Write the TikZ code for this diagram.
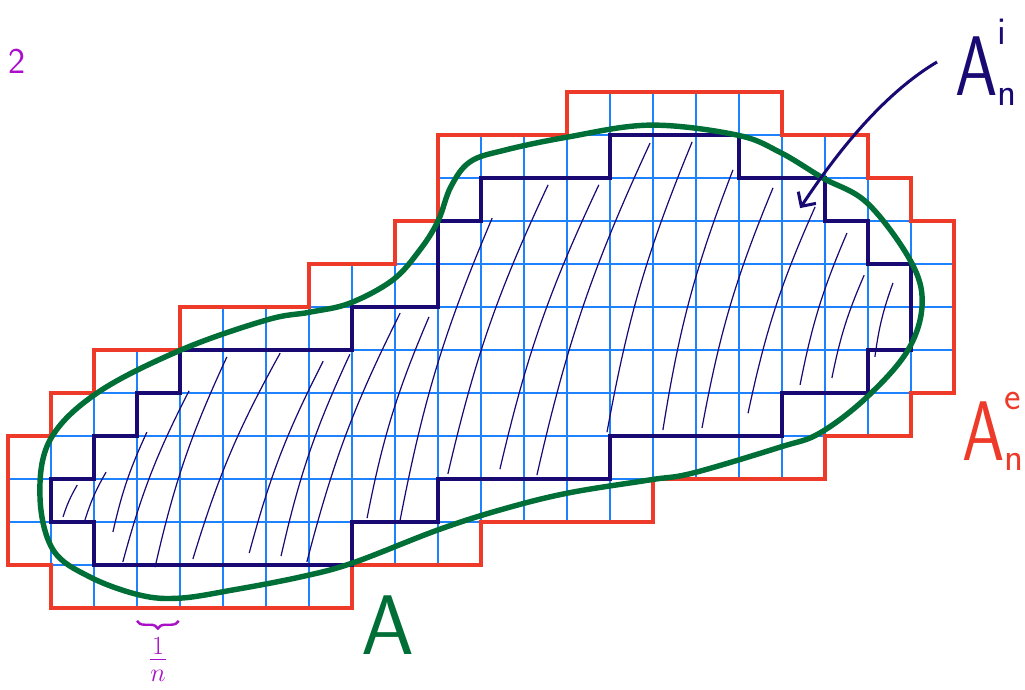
\documentclass[tikz,border=0pt]{standalone}
\usetikzlibrary{arrows.meta,decorations.pathreplacing}

\definecolor{gridblue}{RGB}{30,130,255}
\definecolor{outerred}{RGB}{238,58,40}
\definecolor{innernavy}{RGB}{25,10,115}
\definecolor{blobgreen}{RGB}{0,110,55}
\definecolor{inkpurple}{RGB}{170,15,200}

% outer staircase (cells meeting A)
\newcommand{\outerrim}{(10,1) -- (13,1) -- (13,0) -- (18,0) -- (18,1) -- (20,1) -- (20,2) -- (21,2) -- (21,3) -- (22,3) -- (22,7) -- (21,7) -- (21,8) -- (19,8) -- (19,9) -- (15,9) -- (15,10) -- (11,10) -- (11,11) -- (8,11) -- (8,12) -- (1,12) -- (1,11) -- (0,11) -- (0,8) -- (1,8) -- (1,7) -- (2,7) -- (2,6) -- (4,6) -- (4,5) -- (7,5) -- (7,4) -- (9,4) -- (9,3) -- (10,3) -- cycle}
\newcommand{\areaname}[2]{\scalebox{0.8}[1]{A}\rlap{\raisebox{0.6em}{\fontsize{26}{26}\selectfont #1}}\raisebox{-0.12em}{\fontsize{26}{26}\selectfont #2}}

\begin{document}
\begin{tikzpicture}[x=1cm,y=-1cm,
    cellgrid/.style={gridblue,line width=1.3pt},
    outerline/.style={outerred,line width=2.6pt},
    innerline/.style={innernavy,line width=3.2pt},
    hatchline/.style={innernavy,line width=0.8pt},
    blobline/.style={blobgreen,line width=3.6pt},
    arrowline/.style={innernavy,line width=2pt,-{Straight Barb[length=7pt,width=14pt]}},
    hand/.style={font=\sffamily\fontsize{56}{56}\selectfont,inner xsep=12pt}]

\useasboundingbox (-0.186,-2.140) rectangle (23.651,13.884);

\begin{scope}
    \clip \outerrim;
    \draw[cellgrid] (0,0) grid (22,12);
\end{scope}

\draw[outerline] \outerrim;

% inner staircase
\draw[innerline] (4,6) -- (8,6) -- (8,5) -- (10,5) -- (10,3) -- (11,3) -- (11,2) -- (14,2) -- (14,1) -- (17,1) -- (17,2) -- (19,2) -- (19,3) -- (20,3) -- (20,4) -- (21,4) -- (21,6) -- (20,6) -- (20,7) -- (18,7) -- (18,8) -- (14,8) -- (14,9) -- (10,9) -- (10,10) -- (8,10) -- (8,11) -- (2,11) -- (2,10) -- (1,10) -- (1,9) -- (2,9) -- (2,8) -- (3,8) -- (3,7) -- (4,7) -- cycle;

\foreach \a/\b/\c/\d in {1.28/9.88/1.61/9.14, 1.79/9.95/2.28/8.84, 2.44/10.23/3.23/7.91,
    2.67/10.93/4.21/6.95, 3.42/11.05/5.09/6.16, 4.30/10.86/6.33/6.07, 5.61/10.72/7.33/6.26,
    6.35/10.79/7.95/6.10, 6.95/10.93/9.12/5.14, 8.35/9.91/9.79/5.23, 9.12/9.95/11.26/2.93,
    10.23/8.88/12.56/2.16, 11.44/8.77/13.74/2.16, 12.30/8.91/14.93/1.19, 13.93/7.91/15.91/1.16,
    15.23/7.86/16.86/1.81, 16.14/7.81/17.79/2.23, 17.21/7.47/18.77/2.67, 18.42/6.81/19.51/3.28,
    19.16/6.65/19.91/4.26, 20.16/6.16/20.58/4.44}{
    \draw[hatchline] (\a,\b) to[bend left=6] (\c,\d);
}

% the set A
\draw[blobline] plot[smooth cycle, tension=0.6] coordinates {(0.744,9.419) (0.977,8.093) (2.07,7.0) (4.02,6.0) (6.02,5.30) (7.02,5.12) (7.95,4.91) (8.95,4.37) (9.58,3.67) (10.0,3.0) (10.3,2.2) (10.75,1.62) (11.56,1.35) (13.0,1.05) (14.93,0.77) (16.95,1.0) (17.95,1.40) (18.95,2.0) (19.98,2.58) (20.98,3.91) (21.26,4.91) (20.93,6.0) (19.98,7.09) (18.88,7.93) (17.95,8.26) (15.93,8.86) (14.93,9.02) (13.0,9.33) (11.44,9.72) (9.98,10.19) (8.02,10.95) (6.79,11.28) (5.23,11.58) (4.0,11.77) (3.07,11.70) (1.91,11.28) (1.05,10.65)};

\node[hand,innernavy,anchor=base west] (Ai) at (21.605,0.07) {\areaname{i}{n}};
\node[hand,outerred,anchor=base west] (Ae) at (21.767,8.56) {\areaname{e}{n}};
\node[hand,blobgreen,anchor=base] (A) at (8.84,13.09) {A};

\coordinate (hit) at (18.42,2.70);
\draw[arrowline] (Ai.west) .. controls (20.28,0.09) and (19.19,1.54) .. (hit);

\draw[inkpurple,line width=1.6pt,decorate,decoration={brace,mirror,amplitude=5pt}] (3.0,12.3) -- (3.97,12.3);
\node[inkpurple,inner sep=0pt,font=\fontsize{23}{25}\selectfont] (step) at (3.49,13.2) {$\frac{1}{n}$};
\node[inkpurple,anchor=base,font=\sffamily\fontsize{24}{24}\selectfont] (two) at (0.209,-0.442) {2};

\end{tikzpicture}
\end{document}
